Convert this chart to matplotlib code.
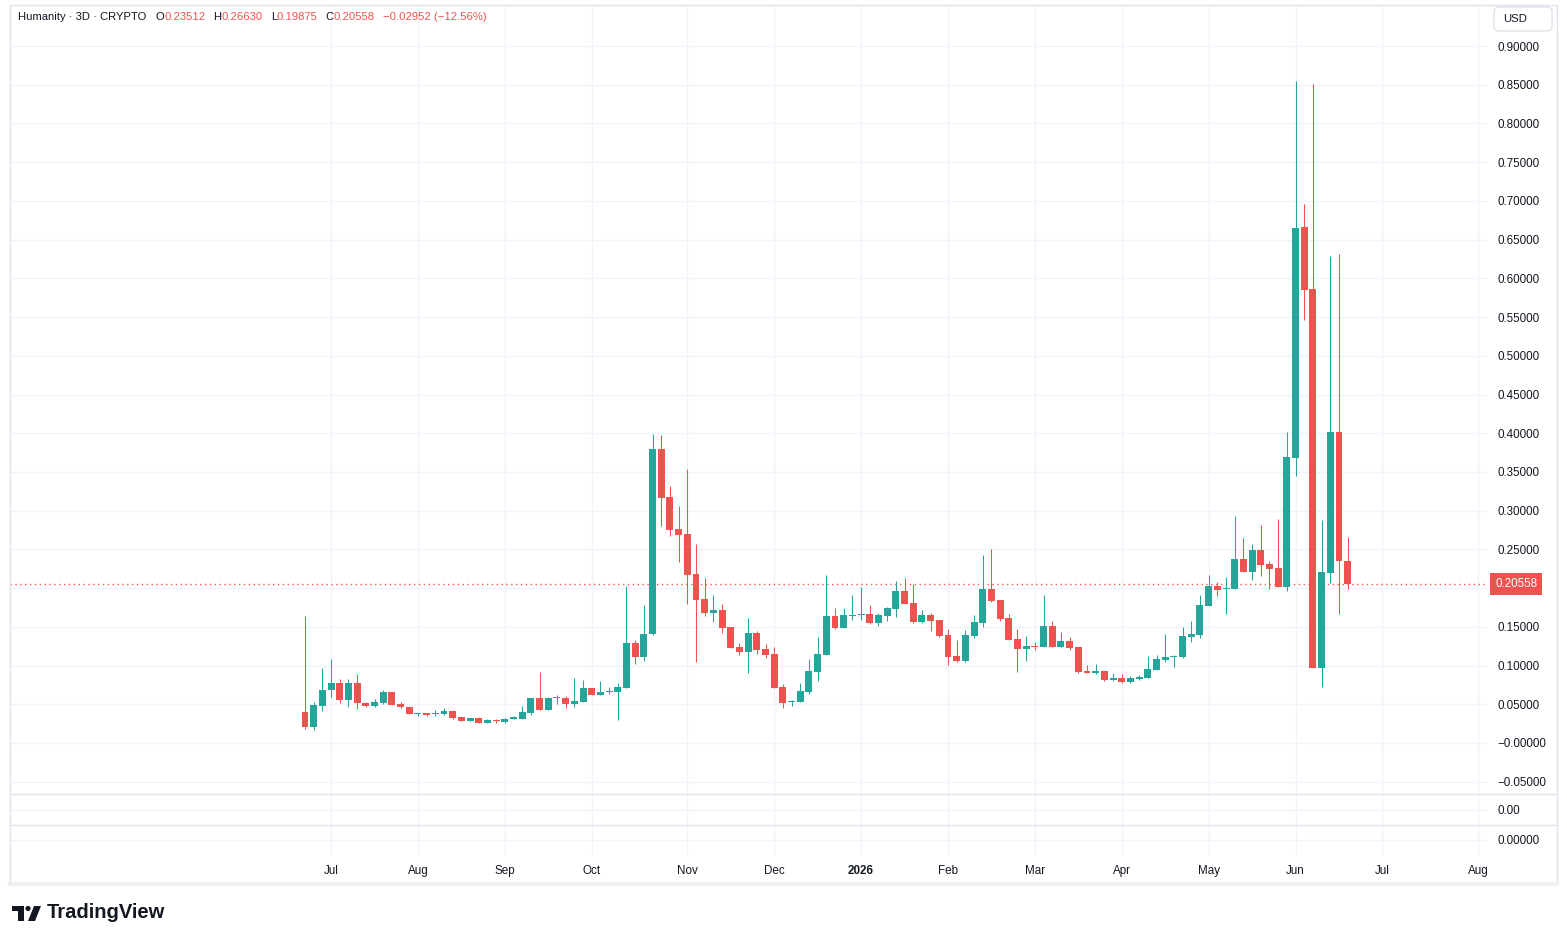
import matplotlib
matplotlib.use("Agg")
import matplotlib.pyplot as plt
from matplotlib.patches import Rectangle, FancyBboxPatch, Polygon, Circle
from matplotlib.lines import Line2D
import numpy as np
import pandas as pd

# 3D candles, Humanity / USD
first_bar = "2025-06-24"
opens = [0.040, 0.020, 0.048, 0.068, 0.0775, 0.056, 0.0775, 0.0515, 0.048, 0.052,
         0.066, 0.050, 0.0465, 0.037, 0.0387, 0.0375, 0.0374, 0.041, 0.0336, 0.0284,
         0.032, 0.026, 0.0297, 0.0275, 0.031, 0.031, 0.039, 0.058, 0.0426, 0.058,
         0.058, 0.050, 0.053, 0.071, 0.062, 0.066, 0.066, 0.071, 0.129, 0.111,
         0.141, 0.380, 0.317, 0.276, 0.270, 0.218, 0.186, 0.168, 0.172, 0.150,
         0.124, 0.1175, 0.142, 0.1214, 0.115, 0.072, 0.053, 0.053, 0.066, 0.092,
         0.114, 0.164, 0.1485, 0.164, 0.165, 0.1666, 0.155, 0.164, 0.173, 0.196,
         0.181, 0.156, 0.165, 0.159, 0.1395, 0.112, 0.106, 0.138, 0.155, 0.199,
         0.185, 0.161, 0.134, 0.121, 0.125, 0.124, 0.151, 0.124, 0.132, 0.124,
         0.093, 0.0904, 0.093, 0.0814, 0.0839, 0.0788, 0.0826, 0.084, 0.0943, 0.107,
         0.111, 0.111, 0.137, 0.1395, 0.177, 0.2027, 0.199, 0.199, 0.2376, 0.221,
         0.249, 0.231, 0.226, 0.2014, 0.368, 0.666, 0.586, 0.097, 0.2195, 0.4016,
         0.23512]
highs = [0.164, 0.053, 0.097, 0.108, 0.083, 0.083, 0.089, 0.0525, 0.057, 0.068,
         0.066, 0.053, 0.0465, 0.039, 0.039, 0.0426, 0.045, 0.043, 0.0336, 0.0323,
         0.034, 0.031, 0.031, 0.0323, 0.035, 0.048, 0.058, 0.092, 0.0594, 0.062,
         0.061, 0.084, 0.081, 0.071, 0.080, 0.072, 0.0775, 0.203, 0.133, 0.178,
         0.399, 0.398, 0.332, 0.306, 0.354, 0.257, 0.213, 0.191, 0.180, 0.150,
         0.129, 0.161, 0.145, 0.128, 0.124, 0.076, 0.0555, 0.0775, 0.1085, 0.137,
         0.217, 0.174, 0.174, 0.191, 0.201, 0.178, 0.168, 0.176, 0.209, 0.213,
         0.205, 0.172, 0.168, 0.159, 0.147, 0.133, 0.146, 0.165, 0.243, 0.2505,
         0.185, 0.1666, 0.147, 0.138, 0.130, 0.191, 0.1575, 0.143, 0.137, 0.124,
         0.1007, 0.102, 0.093, 0.0904, 0.089, 0.0865, 0.088, 0.112, 0.114, 0.141,
         0.114, 0.150, 0.1575, 0.191, 0.217, 0.208, 0.214, 0.293, 0.265, 0.257,
         0.2815, 0.235, 0.289, 0.402, 0.855, 0.696, 0.851, 0.288, 0.629, 0.6315,
         0.26630]
lows = [0.0185, 0.017, 0.041, 0.059, 0.052, 0.046, 0.044, 0.047, 0.047, 0.050,
        0.049, 0.045, 0.037, 0.035, 0.035, 0.035, 0.036, 0.031, 0.028, 0.028,
        0.026, 0.026, 0.026, 0.026, 0.031, 0.031, 0.036, 0.0426, 0.0426, 0.050,
        0.045, 0.0465, 0.053, 0.062, 0.062, 0.063, 0.030, 0.071, 0.102, 0.106,
        0.140, 0.280, 0.267, 0.234, 0.180, 0.105, 0.164, 0.156, 0.142, 0.122,
        0.1136, 0.090, 0.115, 0.110, 0.071, 0.045, 0.048, 0.053, 0.063, 0.080,
        0.114, 0.147, 0.1485, 0.159, 0.159, 0.154, 0.151, 0.1575, 0.163, 0.1795,
        0.155, 0.155, 0.1446, 0.137, 0.101, 0.1046, 0.1046, 0.1356, 0.150, 0.182,
        0.1575, 0.133, 0.092, 0.106, 0.120, 0.124, 0.124, 0.124, 0.120, 0.090,
        0.090, 0.089, 0.080, 0.080, 0.078, 0.078, 0.0814, 0.084, 0.094, 0.1046,
        0.098, 0.110, 0.130, 0.1356, 0.177, 0.190, 0.1666, 0.199, 0.221, 0.2105,
        0.216, 0.199, 0.201, 0.196, 0.345, 0.546, 0.097, 0.072, 0.2066, 0.1666,
        0.19875]
closes = [0.020, 0.049, 0.068, 0.0775, 0.056, 0.0775, 0.051, 0.048, 0.053, 0.066,
          0.049, 0.046, 0.0374, 0.038, 0.036, 0.0387, 0.0413, 0.032, 0.0284, 0.0323,
          0.026, 0.0297, 0.0288, 0.031, 0.0336, 0.040, 0.058, 0.0426, 0.058, 0.059,
          0.050, 0.054, 0.071, 0.062, 0.066, 0.067, 0.072, 0.129, 0.111, 0.141,
          0.380, 0.316, 0.2755, 0.269, 0.217, 0.185, 0.168, 0.172, 0.1485, 0.123,
          0.1175, 0.142, 0.1205, 0.1136, 0.071, 0.052, 0.054, 0.067, 0.093, 0.115,
          0.164, 0.1485, 0.165, 0.165, 0.1666, 0.155, 0.165, 0.174, 0.196, 0.1795,
          0.156, 0.165, 0.1575, 0.138, 0.111, 0.106, 0.1395, 0.156, 0.199, 0.1834,
          0.160, 0.133, 0.121, 0.125, 0.124, 0.151, 0.124, 0.132, 0.1227, 0.092,
          0.090, 0.093, 0.0814, 0.0839, 0.0788, 0.0839, 0.0852, 0.0956, 0.1085, 0.111,
          0.112, 0.138, 0.141, 0.178, 0.2027, 0.1976, 0.200, 0.2376, 0.221, 0.249,
          0.230, 0.2247, 0.2014, 0.369, 0.665, 0.585, 0.097, 0.221, 0.4016, 0.2351,
          0.20558]
price_ticks = [-0.05, 0.0, 0.05, 0.10, 0.15, 0.20, 0.25, 0.30, 0.35, 0.40,
               0.45, 0.50, 0.55, 0.60, 0.65, 0.70, 0.75, 0.80, 0.85, 0.90]
symbol = "Humanity · 3D · CRYPTO"
currency = "USD"

W, H = 1567, 944
UP, DOWN = "#26a69a", "#ef5350"
INK, GRID, EDGE = "#131722", "#f0f3fa", "#e0e3eb"
FONT = ["Liberation Sans", "DejaVu Sans"]
plt.rcParams["font.family"] = FONT


def rect(l, t, r, b):
    return [l / W, 1 - b / H, (r - l) / W, (b - t) / H]


n = len(closes)
dates = pd.date_range(first_bar, periods=n + 20, freq="3D")
month_idx, month_lab = [], []
for i in range(1, len(dates)):
    if dates[i].month != dates[i - 1].month:
        month_idx.append(i)
        month_lab.append(str(dates[i].year) if dates[i].month == 1 else dates[i].strftime("%b"))

fig = plt.figure(figsize=(W / 100, H / 100), dpi=100)
fig.patch.set_facecolor("white")

xlim = (-33.95, 136.15)
last = closes[-1]

# main price pane
ax = fig.add_axes(rect(10, 5, 1488, 794))
x = np.arange(n)
o = np.array(opens)
c = np.array(closes)
cols = [UP if cc >= oo else DOWN for oo, cc in zip(o, c)]
ax.vlines(x, lows, highs, colors=cols, linewidth=0.75, zorder=3)
ax.bar(x, np.maximum(np.abs(c - o), 0.0013), bottom=np.minimum(o, c), width=0.8,
       color=cols, linewidth=0, zorder=4)
ax.set_xlim(*xlim)
ax.set_ylim(-0.0659, 0.953)
ax.set_xticks(month_idx)
ax.set_yticks(price_ticks)
ylabels = []
for v in price_ticks:
    if abs(v - last) < 0.015:
        ylabels.append("")  # hidden behind the last-price tag
    elif v == 0:
        ylabels.append("−0.00000")
    else:
        ylabels.append(f"{v:.5f}".replace("-", "−"))
ax.set_yticklabels(ylabels)
ax.yaxis.tick_right()
ax.tick_params(axis="y", length=0, pad=7, labelsize=8.4, labelcolor=INK)
ax.tick_params(axis="x", length=0, labelbottom=False)
ax.grid(color=GRID, linewidth=1)
ax.set_axisbelow(True)
for s in ax.spines.values():
    s.set_visible(False)

ax.axhline(last, color=DOWN, linestyle=(0, (1, 2.5)), linewidth=1, zorder=2)
ax.annotate(f"{last:.5f}", xy=(1, last), xycoords=ax.get_yaxis_transform(),
            xytext=(7, 0), textcoords="offset pixels", ha="left", va="center",
            color="white", fontsize=8.4,
            bbox=dict(boxstyle="square,pad=0.42", fc=DOWN, ec="none"))

# two empty indicator panes
for top, bot, lab in [(794, 825, "0.00"), (825, 855, "0.00000")]:
    a = fig.add_axes(rect(10, top, 1488, bot))
    a.set_xlim(*xlim)
    a.set_ylim(-1, 1)
    a.set_xticks(month_idx)
    a.set_yticks([0])
    a.set_yticklabels([lab])
    a.yaxis.tick_right()
    a.tick_params(axis="y", length=0, pad=7, labelsize=8.4, labelcolor=INK)
    a.grid(color=GRID, linewidth=1)
    a.set_axisbelow(True)
    for s in a.spines.values():
        s.set_visible(False)
    if lab == "0.00000":
        a.set_xticklabels(month_lab)
        a.tick_params(axis="x", length=0, pad=7, labelsize=8.4, labelcolor=INK)
        for t in a.get_xticklabels():
            if t.get_text().isdigit():
                t.set_fontweight("bold")
    else:
        a.tick_params(axis="x", length=0, labelbottom=False)

# frame and separators
fig.add_artist(Rectangle((10 / W, 1 - 884 / H), 1547 / W, 879 / H, transform=fig.transFigure,
                         fill=False, edgecolor=EDGE, linewidth=1))
for yy in (794, 825):
    fig.add_artist(Line2D([10 / W, 1557 / W], [1 - yy / H] * 2, color=EDGE, linewidth=1))
fig.add_artist(Line2D([10 / W, 1557 / W], [1 - 884 / H] * 2, color="#f0f0f0", linewidth=3))

# currency button
fig.add_artist(FancyBboxPatch((1494 / W, 1 - 31 / H), 58 / W, 24 / H,
                              boxstyle="round,pad=0,rounding_size=0.004",
                              transform=fig.transFigure, fc="white", ec=EDGE, lw=1))
fig.text(1503 / W, 1 - 19 / H, currency, fontsize=8.2, color=INK, va="center")

# legend row
prev = closes[-2]
chg = last - prev
pieces = [(symbol, INK, 9), ("O", INK, 0), (f"{opens[-1]:.5f}", DOWN, 8),
          ("H", INK, 0), (f"{highs[-1]:.5f}", DOWN, 8), ("L", INK, 0),
          (f"{lows[-1]:.5f}", DOWN, 8), ("C", INK, 0), (f"{last:.5f}", DOWN, 8),
          (f"{chg:+.5f} ({chg / prev * 100:+.2f}%)".replace("-", "−"), DOWN, 0)]
renderer = fig.canvas.get_renderer()
xp = 18
for txt, col, gap in pieces:
    t = fig.text(xp / W, 1 - 17 / H, txt, color=col, fontsize=8.1, va="center", ha="left")
    xp += t.get_window_extent(renderer).width + gap

# logo
lg = fig.add_axes(rect(10, 903, 46, 923))
lg.set_xlim(10, 46)
lg.set_ylim(923, 903)
lg.axis("off")
lg.add_patch(Polygon([(12, 906), (24, 906), (24, 921), (18, 921), (18, 911), (12, 911)],
                     closed=True, fc=INK, ec="none"))
lg.add_patch(Circle((28, 908.5), 2.6, fc=INK, ec="none"))
lg.add_patch(Polygon([(34, 906), (41, 906), (35, 921), (28, 921)], closed=True, fc=INK, ec="none"))
fig.text(47 / W, 1 - 913 / H, "TradingView", fontsize=14.5, fontweight="bold",
         color=INK, va="center", ha="left")

fig.savefig("out.png", dpi=100, facecolor="white")
